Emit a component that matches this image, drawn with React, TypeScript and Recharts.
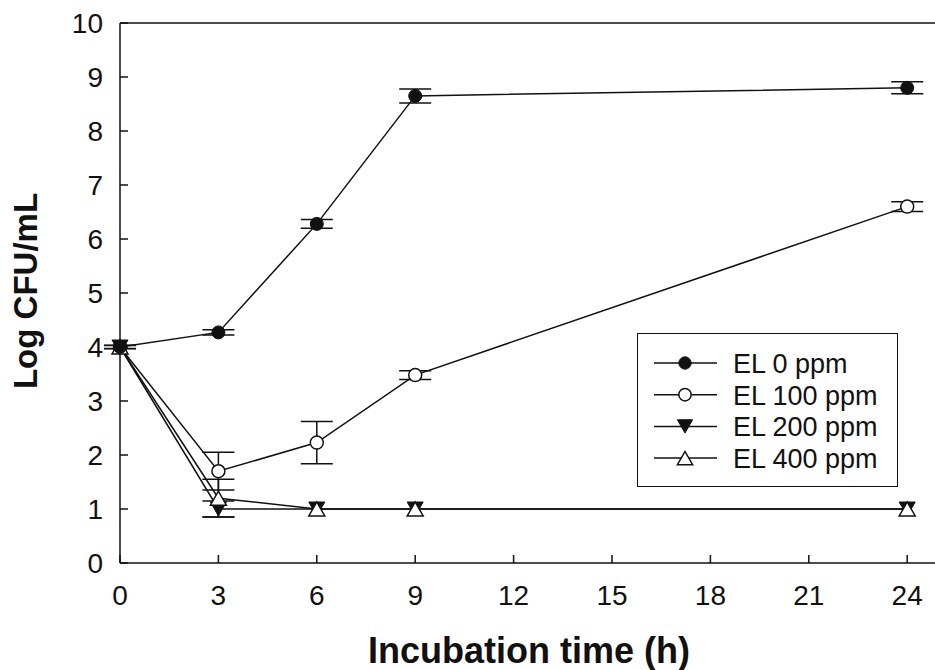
import React from "react";
import {
  LineChart,
  Line,
  XAxis,
  YAxis,
  ErrorBar,
  ReferenceLine,
  Legend,
  Label,
} from "recharts";

// incubation hours
const hours = [0, 3, 6, 9, 24];

// log CFU/mL per treatment, with error bar half-widths (null = no bar)
const el0 = [4.0, 4.27, 6.28, 8.65, 8.8];
const el0Err = [0.03, 0.05, 0.08, 0.13, 0.11];
const el100 = [4.0, 1.7, 2.23, 3.48, 6.6];
const el100Err = [0.03, 0.35, 0.39, 0.08, 0.09];
const el200 = [4.0, 1.0, 1.0, 1.0, 1.0];
const el200Err = [null, 0.15, null, null, null];
const el400 = [4.0, 1.2, 1.0, 1.0, 1.0];
const el400Err = [null, 0.35, null, null, null];

const xTicks = [0, 3, 6, 9, 12, 15, 18, 21, 24];
const yTicks = [0, 1, 2, 3, 4, 5, 6, 7, 8, 9, 10];

const legendNames = ["EL 0 ppm", "EL 100 ppm", "EL 200 ppm", "EL 400 ppm"];

const rows = hours.map((h, i) => ({
  h,
  el0: el0[i],
  el0Err: el0Err[i],
  el100: el100[i],
  el100Err: el100Err[i],
  el200: el200[i],
  el200Err: el200Err[i],
  el400: el400[i],
  el400Err: el400Err[i],
}));

const FONT = '"Liberation Sans", Arial, sans-serif';
const INK = "#111";

type Kind = "filledCircle" | "openCircle" | "downTri" | "upTri";

function Marker({ kind, cx, cy, s = 1 }: { kind: Kind; cx: number; cy: number; s?: number }) {
  const r = 6.5 * s;
  if (kind === "filledCircle") return <circle cx={cx} cy={cy} r={r} fill={INK} stroke={INK} strokeWidth={1} />;
  if (kind === "openCircle") return <circle cx={cx} cy={cy} r={r} fill="#fff" stroke={INK} strokeWidth={1.5} />;
  const w = 8 * s;
  const hgt = 7 * s;
  if (kind === "downTri")
    return (
      <polygon
        points={`${cx - w},${cy - hgt} ${cx + w},${cy - hgt} ${cx},${cy + hgt}`}
        fill={INK}
        stroke={INK}
        strokeWidth={1}
      />
    );
  return (
    <polygon
      points={`${cx - w},${cy + hgt} ${cx + w},${cy + hgt} ${cx},${cy - hgt}`}
      fill="#fff"
      stroke={INK}
      strokeWidth={1.5}
    />
  );
}

const dotFor = (kind: Kind) => (props: any) =>
  <Marker key={`${kind}-${props.index}`} kind={kind} cx={props.cx} cy={props.cy} />;

const kinds: Kind[] = ["filledCircle", "openCircle", "downTri", "upTri"];

function XTick({ x, y, payload }: any) {
  return (
    <g>
      <line x1={x} y1={y} x2={x} y2={y - 8} stroke={INK} strokeWidth={1.5} />
      <text x={x} y={y + 42} textAnchor="middle" fontSize={28} fontFamily={FONT} fill={INK}>
        {payload.value}
      </text>
    </g>
  );
}

function YTick({ x, y, payload }: any) {
  return (
    <g>
      <line x1={x} y1={y} x2={x + 8} y2={y} stroke={INK} strokeWidth={1.5} />
      <text x={x - 17} y={y + 10} textAnchor="end" fontSize={28} fontFamily={FONT} fill={INK}>
        {payload.value}
      </text>
    </g>
  );
}

function LegendBox() {
  return (
    <div style={{ width: 259, height: 152, border: `1.5px solid ${INK}`, background: "#fff" }}>
      <svg width={259} height={152}>
        {legendNames.map((name, i) => {
          const cy = 29 + i * 31.7;
          return (
            <g key={name}>
              <line x1={16} y1={cy} x2={79} y2={cy} stroke={INK} strokeWidth={1.5} />
              <Marker kind={kinds[i]} cx={47} cy={cy} s={0.95} />
              <text x={95} y={cy + 10} fontSize={27} fontFamily={FONT} fill={INK}>
                {name}
              </text>
            </g>
          );
        })}
      </svg>
    </div>
  );
}

export default function App() {
  const series = [
    { key: "el100", err: "el100Err", kind: kinds[1] },
    { key: "el200", err: "el200Err", kind: kinds[2] },
    { key: "el400", err: "el400Err", kind: kinds[3] },
    { key: "el0", err: "el0Err", kind: kinds[0] },
  ];

  return (
    <div
      style={{
        position: "absolute",
        left: 0,
        top: 0,
        width: 935,
        height: 670,
        overflow: "hidden",
        background: "#fff",
      }}
    >
      <LineChart width={960} height={670} data={rows} margin={{ top: 23, right: 20, bottom: 67, left: 60 }}>
        <ReferenceLine y={10} stroke={INK} strokeWidth={1.5} />
        <XAxis
          dataKey="h"
          type="number"
          domain={[0, 25]}
          ticks={xTicks}
          height={40}
          tickSize={0}
          tickMargin={0}
          tickLine={false}
          axisLine={{ stroke: INK, strokeWidth: 1.5 }}
          tick={<XTick />}
          interval={0}
        >
          <Label
            content={() => (
              <text x={529} y={663} textAnchor="middle" fontSize={36} fontWeight="bold" fontFamily={FONT} fill={INK}>
                Incubation time (h)
              </text>
            )}
          />
        </XAxis>
        <YAxis
          type="number"
          domain={[0, 10]}
          ticks={yTicks}
          width={60}
          tickSize={0}
          tickMargin={0}
          tickLine={false}
          axisLine={{ stroke: INK, strokeWidth: 1.5 }}
          tick={<YTick />}
          interval={0}
        >
          <Label
            content={() => (
              <text
                x={37}
                y={291}
                transform="rotate(-90 37 291)"
                textAnchor="middle"
                fontSize={33}
                fontWeight="bold"
                fontFamily={FONT}
                fill={INK}
              >
                Log CFU/mL
              </text>
            )}
          />
        </YAxis>
        {series.map((s) => (
          <Line
            key={s.key}
            dataKey={s.key}
            stroke={INK}
            strokeWidth={1.5}
            type="linear"
            dot={dotFor(s.kind)}
            activeDot={false}
            isAnimationActive={false}
          >
            <ErrorBar dataKey={s.err} direction="y" width={16} stroke={INK} strokeWidth={1.5} />
          </Line>
        ))}
        <Legend
          verticalAlign="middle"
          align="center"
          content={() => <LegendBox />}
          wrapperStyle={{ position: "absolute", left: 637, top: 333, width: 262, height: 155 }}
        />
      </LineChart>
    </div>
  );
}
